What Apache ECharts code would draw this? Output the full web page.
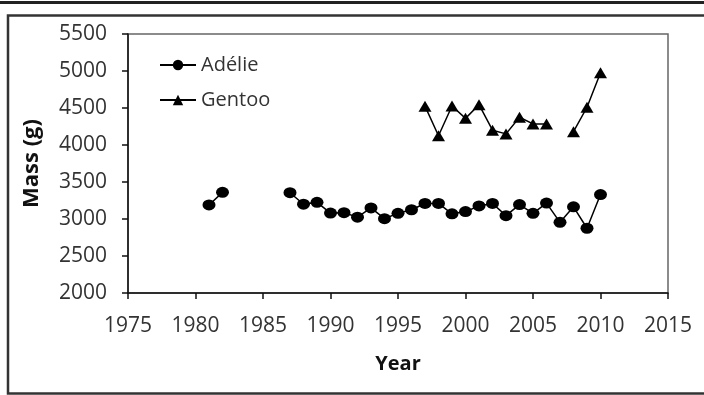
<!DOCTYPE html>
<html>
<head>
<meta charset="utf-8">
<script src="https://cdn.jsdelivr.net/npm/echarts@6/dist/echarts.min.js"></script>
<style>
  html, body { margin: 0; padding: 0; background: #fff; }
  #main { width: 704px; height: 395px; }
</style>
</head>
<body>
<div id="main"></div>
<script>
// penguin body mass by year
var years = [1981, 1982, 1983, 1984, 1985, 1986, 1987, 1988, 1989, 1990,
             1991, 1992, 1993, 1994, 1995, 1996, 1997, 1998, 1999, 2000,
             2001, 2002, 2003, 2004, 2005, 2006, 2007, 2008, 2009, 2010];
var adelie = [3190, 3360, null, null, null, null, 3355, 3200, 3225, 3080,
              3085, 3025, 3150, 3005, 3077, 3125, 3210, 3210, 3070, 3100,
              3176, 3210, 3045, 3195, 3077, 3215, 2955, 3165, 2875, 3330];
var gentoo = [null, null, null, null, null, null, null, null, null, null,
              null, null, null, null, null, null, 4525, 4125, 4527, 4360,
              4545, 4200, 4150, 4375, 4285, 4285, null, 4180, 4510, 4975];

function pairs(vals) {
  return years.map(function (y, i) { return [y, vals[i]]; });
}

var chart = echarts.init(document.getElementById('main'));

var labelFont = { fontFamily: 'Open Sans', fontSize: 21, color: '#333' };
var plain = function (v) { return String(v); };

chart.setOption({
  animation: false,
  textStyle: { fontFamily: 'Open Sans' },
  graphic: [
    { type: 'rect', shape: { x: 0, y: 1, width: 704, height: 3 }, style: { fill: '#222' } },
    { type: 'rect', shape: { x: 8, y: 15.5, width: 720, height: 378 },
      style: { fill: 'none', stroke: '#333', lineWidth: 2.5 } }
  ],
  grid: {
    left: 128, right: 36, top: 34, bottom: 102,
    show: true, borderColor: '#666', borderWidth: 1.5
  },
  legend: {
    orient: 'vertical',
    left: 159, top: 55, padding: 0,
    itemWidth: 36, itemHeight: 13, itemGap: 15,
    textStyle: { fontFamily: 'Open Sans', fontSize: 20, color: '#333', lineHeight: 20 },
    data: ['Adélie', 'Gentoo']
  },
  xAxis: {
    type: 'value', min: 1975, max: 2015, interval: 5,
    name: 'Year', nameLocation: 'middle', nameGap: 61,
    nameTextStyle: { fontFamily: 'Open Sans', fontSize: 20, fontWeight: 'bold', color: '#111' },
    axisLine: { lineStyle: { color: '#111', width: 1.5 } },
    axisTick: { inside: false, length: 6, lineStyle: { color: '#111', width: 1.5 } },
    axisLabel: Object.assign({ margin: 23, formatter: plain }, labelFont),
    splitLine: { show: false }
  },
  yAxis: {
    type: 'value', min: 2000, max: 5500, interval: 500,
    name: 'Mass (g)', nameLocation: 'middle', nameGap: 85,
    nameTextStyle: { fontFamily: 'Open Sans', fontSize: 22, fontWeight: 'bold', color: '#111' },
    axisLine: { show: true, lineStyle: { color: '#111', width: 1.5 } },
    axisTick: { show: true, length: 6, lineStyle: { color: '#111', width: 1.5 } },
    axisLabel: Object.assign({ margin: 21, formatter: plain }, labelFont),
    splitLine: { show: false }
  },
  series: [
    {
      name: 'Adélie', type: 'line', data: pairs(adelie),
      connectNulls: false,
      symbol: 'circle', symbolSize: [13, 11],
      lineStyle: { color: '#000', width: 1.5 },
      itemStyle: { color: '#000' }
    },
    {
      name: 'Gentoo', type: 'line', data: pairs(gentoo),
      connectNulls: false,
      symbol: 'triangle', symbolSize: [13, 11],
      lineStyle: { color: '#000', width: 1.5 },
      itemStyle: { color: '#000' }
    }
  ]
});
</script>
</body>
</html>
